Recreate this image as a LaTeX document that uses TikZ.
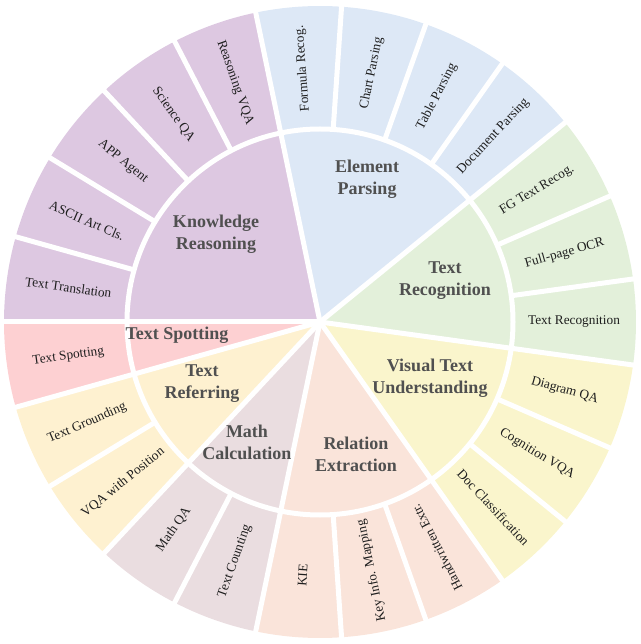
\documentclass[tikz,border=0pt]{standalone}
\usepackage{fontspec}
\setmainfont{Liberation Serif}
\definecolor{cKR}{RGB}{221,200,225}
\definecolor{cEP}{RGB}{221,232,246}
\definecolor{cTR}{RGB}{227,240,218}
\definecolor{cVU}{RGB}{250,245,204}
\definecolor{cRE}{RGB}{250,228,218}
\definecolor{cMC}{RGB}{234,221,224}
\definecolor{cTF}{RGB}{254,241,208}
\definecolor{cTS}{RGB}{253,208,210}
\definecolor{innergray}{RGB}{80,80,80}
\definecolor{outerblack}{RGB}{30,30,30}
\begin{document}
\begin{tikzpicture}[
  inlab/.style={font=\fontsize{18}{22}\selectfont\bfseries, text=innergray, align=center},
  outlab/.style={font=\fontsize{13.3}{15}\selectfont, text=outerblack},
  sep/.style={white, line width=5pt},
]
\useasboundingbox (-320pt,-322pt) rectangle (320pt,322pt);
\def\W{15.65217}
% outer ring
\foreach \i/\c in {0/cTS,1/cTF,2/cTF,3/cMC,4/cMC,5/cRE,6/cRE,7/cRE,8/cVU,9/cVU,10/cVU,11/cTR,12/cTR,13/cTR,14/cEP,15/cEP,16/cEP,17/cEP,18/cKR,19/cKR,20/cKR,21/cKR,22/cKR}{
  \pgfmathsetmacro\a{180+\i*\W}
  \pgfmathsetmacro\b{180+(\i+1)*\W}
  \fill[\c] (\a:193pt) arc[start angle=\a, end angle=\b, radius=193pt] -- (\b:316pt) arc[start angle=\b, end angle=\a, radius=316pt] -- cycle;
}
% inner ring
\foreach \s/\e/\c in {0/1/cTS,1/3/cTF,3/5/cMC,5/8/cRE,8/11/cVU,11/14/cTR,14/18/cEP,18/23/cKR}{
  \pgfmathsetmacro\a{180+\s*\W}
  \pgfmathsetmacro\b{180+\e*\W}
  \fill[\c] (0pt,0pt) -- (\a:193pt) arc[start angle=\a, end angle=\b, radius=193pt] -- cycle;
}
% separators
\coordinate (ctr) at (0pt,0pt);
\draw[sep] (ctr) circle[radius=193pt];
\foreach \i in {0,...,22}{
  \pgfmathsetmacro\a{180+\i*\W}
  \draw[sep] (\a:193pt) -- (\a:320pt);
}
\foreach \i in {0,1,3,5,8,11,14,18}{
  \pgfmathsetmacro\a{180+\i*\W}
  \draw[sep] (ctr) -- (\a:194pt);
}
% outer labels
\foreach \i/\t/\k in {0/Text Spotting/180,1/Text Grounding/180,2/VQA with Position/180,3/Math QA/180,4/Text Counting/180,5/KIE/180,6/Key Info. Mapping/180,7/Handwritten Extr./180,8/Doc Classification/360,9/Cognition VQA/360,10/Diagram QA/360,11/Text Recognition/360,12/Full-page OCR/360,13/FG Text Recog./360,14/Document Parsing/360,15/Table Parsing/360,16/Chart Parsing/360,17/Formula Recog./360,18/Reasoning VQA/540,19/Science QA/540,20/APP Agent/540,21/ASCII Art Cls./540,22/Text Translation/540}{
  \pgfmathsetmacro\m{180+(\i+0.5)*\W}
  \pgfmathsetmacro\r{\m-\k}
  \node[outlab, rotate=\r] (o\i) at (\m:254pt) {\t};
}
% inner labels
\node[inlab] (kr) at (-104pt,88pt) {Knowledge\\Reasoning};
\node[inlab] (ep) at (47pt,143pt) {Element\\Parsing};
\node[inlab] (tr) at (125pt,41pt) {Text\\Recognition};
\node[inlab] (vu) at (110pt,-56pt) {Visual Text\\Understanding};
\node[inlab] (re) at (36pt,-132pt) {Relation\\Extraction};
\node[inlab] (mc) at (-73pt,-120pt) {Math\\Calculation};
\node[inlab] (tf) at (-118pt,-62pt) {Text\\Referring};
\node[inlab] (ts) at (-143pt,-13pt) {Text Spotting};
\end{tikzpicture}
\end{document}
